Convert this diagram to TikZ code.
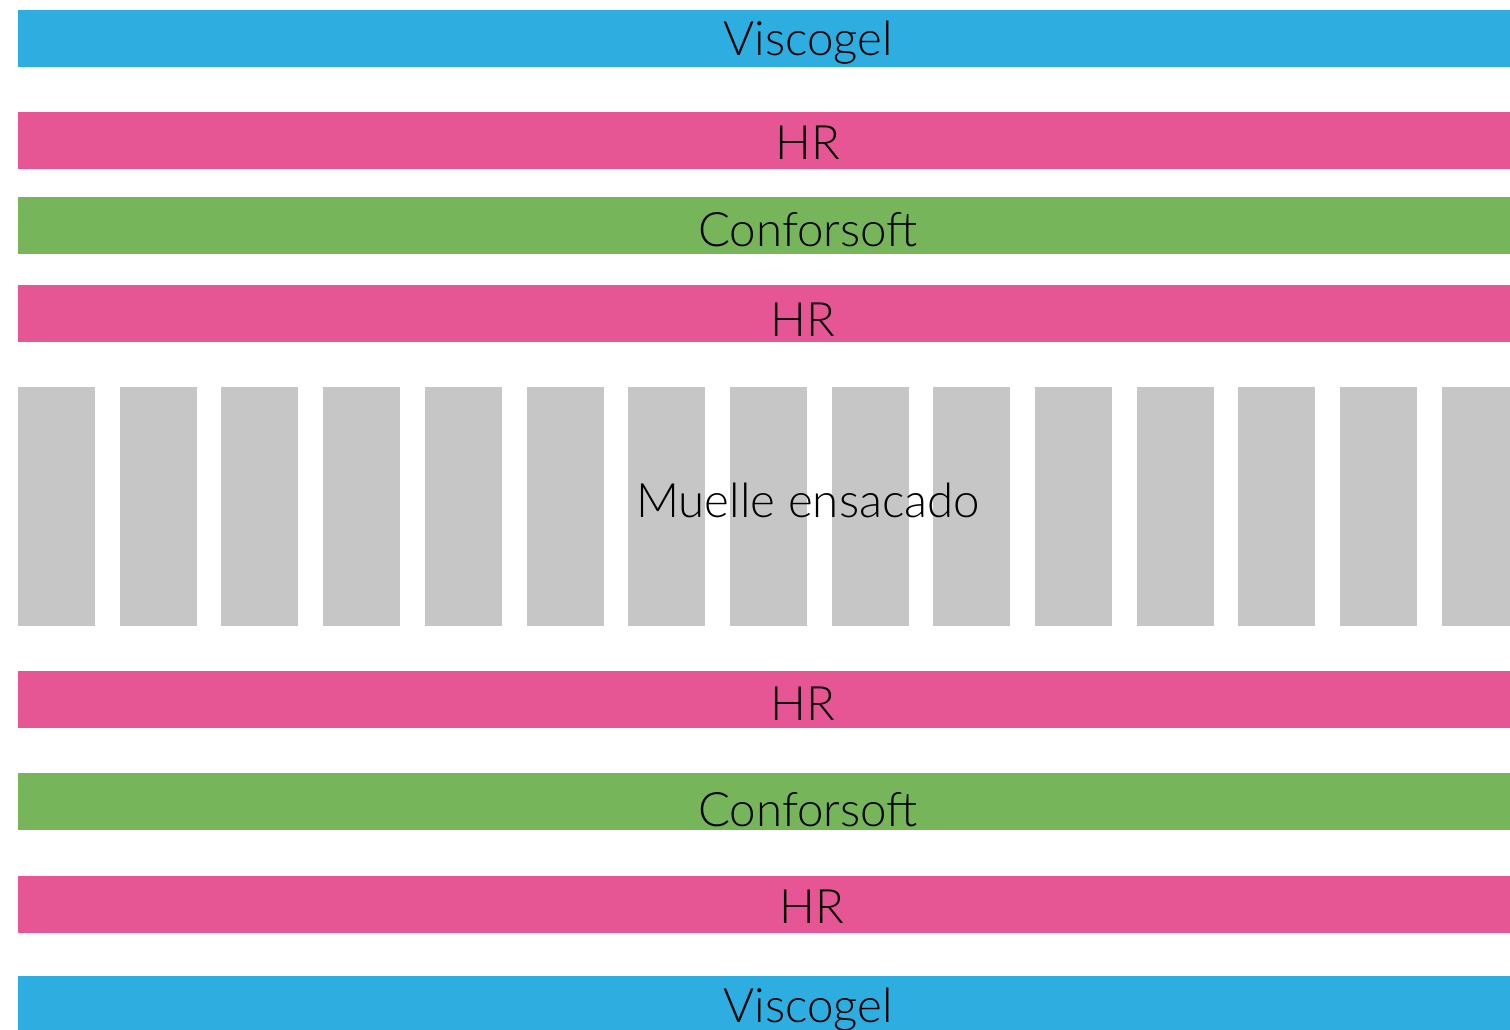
\documentclass[tikz,border=0pt]{standalone}
\usepackage{fontspec}
\setmainfont{Lato}[UprightFont={* Light}]
\definecolor{visco}{HTML}{2DADE0}
\definecolor{hrpink}{HTML}{E75694}
\definecolor{confor}{HTML}{77B55A}
\definecolor{muelle}{HTML}{C6C6C6}
\begin{document}
\begin{tikzpicture}[x=0.02cm,y=-0.02cm,font=\fontsize{27}{30}\selectfont,
  lbl/.style={anchor=base,inner sep=0pt,text=black}]
\useasboundingbox (0,0) rectangle (1510,1030);

% capas de arriba
\fill [visco] (18,10) rectangle (1510,67);
\fill [hrpink] (18,112) rectangle (1510,169);
\fill [confor] (18,197) rectangle (1510,254);
\fill [hrpink] (18,285) rectangle (1510,342);

% muelles
\foreach \x in {18,119.7,...,1450}
  \fill [muelle] (\x,387) rectangle ({min(\x+77,1510)},626);

% capas de abajo
\fill [hrpink] (18,671) rectangle (1510,728);
\fill [confor] (18,773) rectangle (1510,830);
\fill [hrpink] (18,876) rectangle (1510,933);
\fill [visco] (18,976) rectangle (1510,1030);

\node[lbl] (visco1) at (808,56) {Viscogel};
\node[lbl] (hr1) at (808,160) {HR};
\node[lbl] (conf1) at (808,247) {Conforsoft};
\node[lbl] (hr2) at (803,337) {HR};
\node[lbl] (spring) at (808,517) {Muelle ensacado};
\node[lbl] (hr3) at (803,720) {HR};
\node[lbl] (conf2) at (808,826) {Conforsoft};
\node[lbl] (hr4) at (812,923) {HR};
\node[lbl] (visco2) at (808,1022) {Viscogel};
\end{tikzpicture}
\end{document}
